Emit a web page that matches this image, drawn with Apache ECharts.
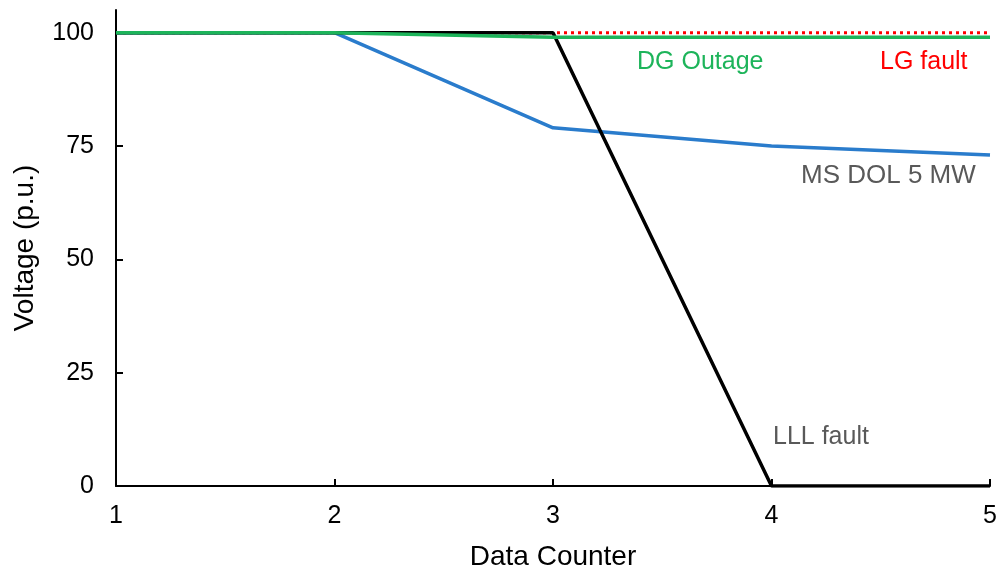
<!DOCTYPE html>
<html>
<head>
<meta charset="utf-8">
<script src="https://cdn.jsdelivr.net/npm/echarts@6/dist/echarts.min.js"></script>
<style>
  html, body { margin: 0; padding: 0; background: #fff; }
  #chart { width: 1002px; height: 579px; }
</style>
</head>
<body>
<div id="chart"></div>
<script>
// Voltage (p.u.) per data counter step for each disturbance case
const counter = [1, 2, 3, 4, 5];
const lgFault = [100, 100, 100, 100, 100];
const msDol5MW = [100, 100, 79, 75, 73];
const lllFault = [100, 100, 100, 0, 0];
const dgOutage = [100, 100, 99, 99, 99];
const yTicks = [0, 25, 50, 75, 100];

const pairs = (ys) => counter.map((x, i) => [x, ys[i]]);
const FONT = 'Liberation Sans, Arial, sans-serif';
const TICK_LEN = 7;

const chart = echarts.init(document.getElementById('chart'), null, { renderer: 'canvas' });

chart.setOption({
  animation: false,
  backgroundColor: '#ffffff',
  grid: { left: 116, right: 12, top: 10, bottom: 93, containLabel: false },
  xAxis: {
    type: 'value',
    min: 1, max: 5, interval: 1,
    name: 'Data Counter',
    nameLocation: 'middle',
    nameGap: 57,
    nameTextStyle: { fontFamily: FONT, fontSize: 28, color: '#000' },
    axisLine: { show: true, onZero: false, lineStyle: { color: '#000', width: 2 } },
    axisTick: { show: true, inside: true, length: TICK_LEN, lineStyle: { color: '#000', width: 2 } },
    axisLabel: { margin: 18, fontFamily: FONT, fontSize: 25, color: '#000' },
    splitLine: { show: false }
  },
  yAxis: {
    type: 'value',
    min: 0, max: 105, interval: 25,
    name: 'Voltage (p.u.)',
    nameLocation: 'middle',
    nameGap: 77,
    nameRotate: 90,
    nameTextStyle: { fontFamily: FONT, fontSize: 28, color: '#000' },
    axisLine: { show: true, lineStyle: { color: '#000', width: 2 } },
    axisTick: { show: true, inside: true, length: TICK_LEN, customValues: yTicks, lineStyle: { color: '#000', width: 2 } },
    axisLabel: { margin: 22, fontFamily: FONT, fontSize: 25, color: '#000', customValues: yTicks },
    splitLine: { show: false }
  },
  series: [
    {
      name: 'LG fault', type: 'line', data: pairs(lgFault),
      symbol: 'none', lineStyle: { color: '#ff0000', width: 3, type: [3, 4] }
    },
    {
      name: 'MS DOL 5 MW', type: 'line', data: pairs(msDol5MW),
      symbol: 'none', lineStyle: { color: '#2a7ccc', width: 3.5 }
    },
    {
      name: 'LLL fault', type: 'line', data: pairs(lllFault),
      symbol: 'none', lineStyle: { color: '#000000', width: 3.5 }
    },
    {
      name: 'DG Outage', type: 'line', data: pairs(dgOutage),
      symbol: 'none', lineStyle: { color: '#1db45a', width: 3.5 }
    }
  ],
  graphic: [
    { type: 'text', left: 637, top: 50, style: { text: 'DG Outage', font: '25px ' + FONT, fill: '#1db45a' } },
    { type: 'text', left: 880, top: 50, style: { text: 'LG fault', font: '25px ' + FONT, fill: '#ff0000' } },
    { type: 'text', left: 801, top: 163, style: { text: 'MS DOL 5 MW', font: '26px ' + FONT, fill: '#595959' } },
    { type: 'text', left: 773, top: 425, style: { text: 'LLL fault', font: '25px ' + FONT, fill: '#595959' } }
  ]
});
</script>
</body>
</html>
